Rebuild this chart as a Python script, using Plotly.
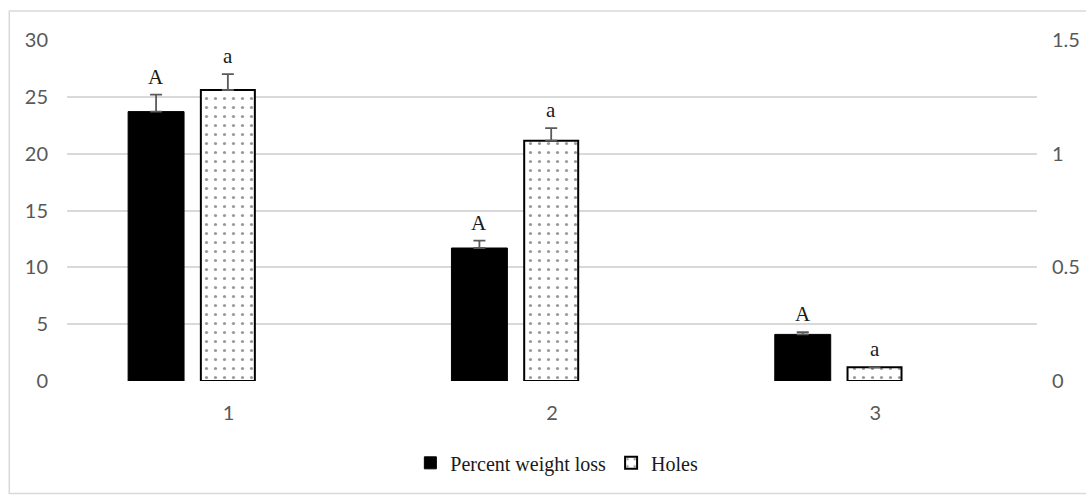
import plotly.graph_objects as go

categories = ["1", "2", "3"]
weight_loss = [23.7, 11.7, 4.1]
weight_loss_err = [1.5, 0.65, 0.2]
holes = [1.28, 1.057, 0.06]
holes_err = [0.07, 0.055, 0.0]
letters_weight = ["A", "A", "A"]
letters_holes = ["a", "a", "a"]
left_ticks = [0, 5, 10, 15, 20, 25, 30]
right_ticks = [0, 0.5, 1, 1.5]
right_tick_text = ["0", "0.5", "1", "1.5"]

W_OFF, W_WID = -0.311, 0.173
H_OFF, H_WID = -0.086, 0.167
xi = list(range(len(categories)))
zeros = [0] * len(categories)

fig = go.Figure()
fig.add_trace(go.Bar(
    x=xi, y=weight_loss, name="Percent weight loss",
    offset=W_OFF, width=W_WID,
    marker=dict(color="black", line=dict(color="black", width=1)),
    error_y=dict(type="data", array=weight_loss_err, arrayminus=zeros,
                 symmetric=False, visible=True,
                 color="#5a5a5a", thickness=1.8, width=6),
    yaxis="y",
))
fig.add_trace(go.Bar(
    x=xi, y=holes, name="Holes",
    offset=H_OFF, width=H_WID,
    marker=dict(color="white", line=dict(color="black", width=2),
                pattern=dict(shape=".", fgcolor="#333333", bgcolor="white",
                             size=9, solidity=0.1)),
    error_y=dict(type="data", array=holes_err, arrayminus=zeros,
                 symmetric=False, visible=True,
                 color="#5a5a5a", thickness=1.8, width=6),
    yaxis="y2",
))

annotations = []
for i in xi:
    annotations.append(dict(
        x=i + W_OFF + W_WID / 2, y=weight_loss[i] + weight_loss_err[i],
        xref="x", yref="y", text=letters_weight[i], showarrow=False,
        yanchor="bottom", yshift=4,
        font=dict(family="Liberation Serif", size=21, color="#1a1a1a")))
    annotations.append(dict(
        x=i + H_OFF + H_WID / 2, y=holes[i] + holes_err[i],
        xref="x", yref="y2", text=letters_holes[i], showarrow=False,
        yanchor="bottom", yshift=4,
        font=dict(family="Liberation Serif", size=21, color="#1a1a1a")))

tick_font = dict(family="Lato", size=20, color="#595959")

fig.update_layout(
    width=1086, height=495,
    margin=dict(l=67, r=49, t=40, b=114, autoexpand=False),
    paper_bgcolor="white", plot_bgcolor="white",
    showlegend=True,
    legend=dict(orientation="h", x=0.505, xanchor="center", y=-0.24, yanchor="middle",
                font=dict(family="Liberation Serif", size=20, color="#1a1a1a"),
                itemwidth=30, traceorder="normal"),
    xaxis=dict(range=[-0.5, 2.5], tickmode="array", tickvals=xi, ticktext=categories,
               showgrid=False, zeroline=False, showline=False, ticks="",
               automargin=False, ticklabelstandoff=18, tickfont=tick_font),
    yaxis=dict(range=[0, 30], tickvals=left_ticks, showgrid=True,
               gridcolor="#d9d9d9", gridwidth=1.5, zeroline=False, showline=False,
               automargin=False, ticks="", ticklabelstandoff=18, tickfont=tick_font),
    yaxis2=dict(range=[0, 1.5], tickvals=right_ticks, ticktext=right_tick_text,
                overlaying="y", side="right", showgrid=False, zeroline=False,
                automargin=False, showline=False, ticks="", ticklabelstandoff=14,
                tickfont=tick_font),
    annotations=annotations,
    shapes=[dict(type="rect", xref="paper", yref="paper",
                 x0=-0.0595, x1=1.07, y0=-0.33, y1=1.085,
                 line=dict(color="#d9d9d9", width=1.5), fillcolor="rgba(0,0,0,0)",
                 layer="below")],
)

fig.write_html("out.html", config={"displayModeBar": False},
               post_script="document.body.style.margin='0';document.body.style.overflow='hidden';")
